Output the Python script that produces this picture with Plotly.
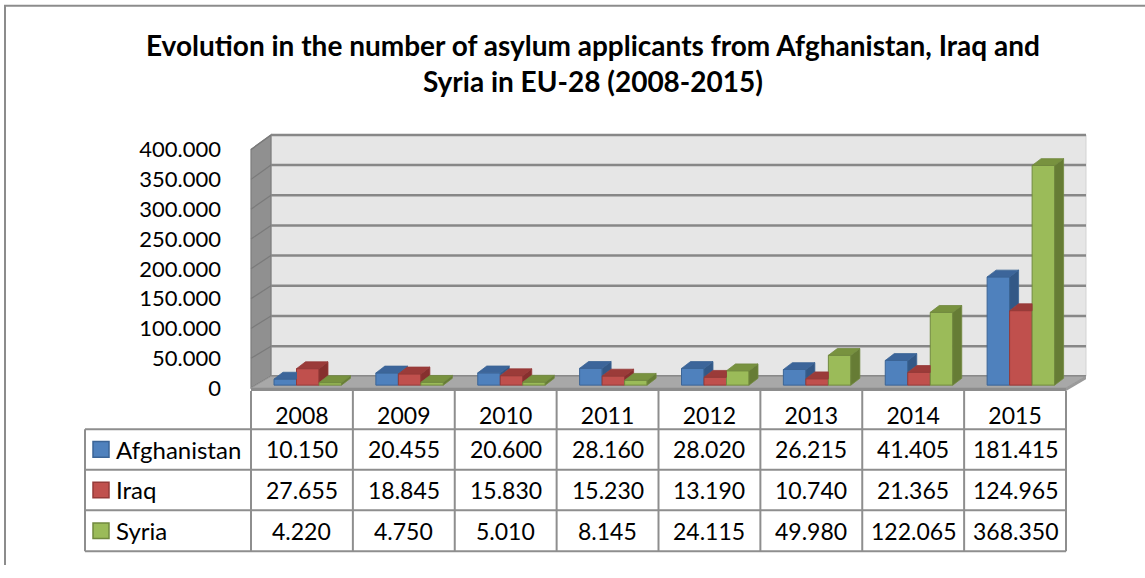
import plotly.graph_objects as go

# ---- data -------------------------------------------------------------
years = ["2008", "2009", "2010", "2011", "2012", "2013", "2014", "2015"]
afghanistan = [10150, 20455, 20600, 28160, 28020, 26215, 41405, 181415]
iraq = [27655, 18845, 15830, 15230, 13190, 10740, 21365, 124965]
syria = [4220, 4750, 5010, 8145, 24115, 49980, 122065, 368350]
series_names = ["Afghanistan", "Iraq", "Syria"]
series_values = [afghanistan, iraq, syria]
y_tick_values = [0, 50000, 100000, 150000, 200000, 250000, 300000, 350000, 400000]

title_text = ("Evolution in the number of asylum applicants from Afghanistan, Iraq and"
              "<br>Syria in EU-28 (2008-2015)")

# ---- styling ------------------------------------------------------------
FONT = "Lato, 'Noto Sans', sans-serif"
styles = [
    dict(front="#4f81bd", edge="#3b6496", top="#3c659a", side="#335886"),   # blue
    dict(front="#c0504d", edge="#953a38", top="#9b3b39", side="#86302e"),   # red
    dict(front="#9bbb59", edge="#71893f", top="#78923f", side="#667c35"),   # green
]
GRID = "#878787"
TABLE_LINE = "#8e8e8e"

# ---- geometry (pixels) --------------------------------------------------
W, H = 1145, 578
FL, FR = 251, 1066            # front edge of the floor / data table columns
BACK_DX = 20                   # horizontal shift of the back wall
FLOOR_FRONT, FLOOR_BACK, WALL_TOP = 397, 385, 138
PX_FRONT = 30.5 / 50000        # px per unit at the front plane
PX_BACK = (FLOOR_BACK - WALL_TOP) / 400000
CAT = (FR - FL) / len(years)

def px(x):
    return x / W

def py(y):
    return 1 - y / H

def pt(x, y):
    return f"{px(x):.5f},{py(y):.5f}"

def poly(points):
    return "M " + " L ".join(pt(x, y) for x, y in points) + " Z"

# bar geometry in data units
BAR_W = 22.5 / CAT
BAR_X0 = 23 / CAT - 0.5
BASE = 3 / PX_FRONT
DDX = 9 / CAT
DDY = 7 / PX_FRONT

fig = go.Figure()

# ---- bars: front faces as bars, top/side faces as filled polygons --------
for k, (name, vals) in enumerate(zip(series_names, series_values)):
    st = styles[k]
    nxt = series_values[k + 1] if k + 1 < len(series_values) else None
    off = BAR_X0 + k * BAR_W
    fig.add_trace(go.Bar(
        x=list(range(len(years))), y=vals, base=BASE, width=BAR_W, offset=off,
        marker=dict(color=st["front"], line=dict(color=st["edge"], width=1)),
        name=name, showlegend=False, hoverinfo="skip",
    ))
    side_x, side_y, top_x, top_y = [], [], [], []
    for i, v in enumerate(vals):
        xl = i + off
        xr = xl + BAR_W
        T = BASE + v
        low = BASE + (nxt[i] if nxt else 0)
        # right side face, only the part above the neighbouring bar
        if not nxt or nxt[i] < v:
            side_x += [xr, xr + DDX, xr + DDX, xr, xr, None]
            side_y += [low, low + DDY, T + DDY, T, low, None]
        # top face, trimmed where the taller neighbour covers it
        y0 = min(max(low, T), T + DDY) if nxt else T
        s = (T + DDY - y0) / DDY
        top_x += [xl, xl + DDX, xr + DDX * s, xr, xr, xl, None]
        top_y += [T, T + DDY, T + DDY, y0, T, T, None]
    fig.add_trace(go.Scatter(x=side_x, y=side_y, mode="lines", fill="toself",
                             fillcolor=st["side"], line=dict(color=st["edge"], width=0.8),
                             showlegend=False, hoverinfo="skip"))
    fig.add_trace(go.Scatter(x=top_x, y=top_y, mode="lines", fill="toself",
                             fillcolor=st["top"], line=dict(color=st["edge"], width=0.8),
                             showlegend=False, hoverinfo="skip"))

shapes = []

# ---- walls and floor ------------------------------------------------------
wall_front_top = FLOOR_FRONT - 400000 * PX_FRONT
shapes.append(dict(type="path", xref="paper", yref="paper", layer="below",
                   path=poly([(FL + BACK_DX, WALL_TOP), (FR + BACK_DX, WALL_TOP),
                              (FR + BACK_DX, FLOOR_BACK), (FL + BACK_DX, FLOOR_BACK)]),
                   fillcolor="#e6e6e6", line=dict(color="#d2d2d2", width=1)))
shapes.append(dict(type="path", xref="paper", yref="paper", layer="below",
                   path=poly([(FL, wall_front_top), (FL + BACK_DX, WALL_TOP),
                              (FL + BACK_DX, FLOOR_BACK), (FL, FLOOR_FRONT)]),
                   fillcolor="#909090", line=dict(color="#7c7c7c", width=1.2)))
for v in y_tick_values:
    yf = FLOOR_FRONT - v * PX_FRONT
    yb = FLOOR_BACK - v * PX_BACK
    shapes.append(dict(type="line", xref="paper", yref="paper", layer="below",
                       x0=px(FL), y0=py(yf), x1=px(FL + BACK_DX), y1=py(yb),
                       line=dict(color="#7a7a7a", width=1.2)))
    shapes.append(dict(type="line", xref="paper", yref="paper", layer="below",
                       x0=px(FL + BACK_DX), y0=py(yb), x1=px(FR + BACK_DX), y1=py(yb),
                       line=dict(color=GRID, width=2.5)))
shapes.append(dict(type="path", xref="paper", yref="paper", layer="below",
                   path=poly([(FL, FLOOR_FRONT), (FL + BACK_DX, FLOOR_BACK),
                              (FR + BACK_DX, FLOOR_BACK), (FR, FLOOR_FRONT)]),
                   fillcolor="#a8a8a8", line=dict(color="#959595", width=1)))
shapes.append(dict(type="path", xref="paper", yref="paper", layer="below",
                   path=poly([(FL, FLOOR_FRONT), (FR, FLOOR_FRONT),
                              (FR, FLOOR_FRONT + 3), (FL, FLOOR_FRONT + 3)]),
                   fillcolor="#8c8c8c", line=dict(width=0)))
shapes.append(dict(type="path", xref="paper", yref="paper", layer="below",
                   path=poly([(FR, FLOOR_FRONT), (FR + BACK_DX, FLOOR_BACK),
                              (FR + BACK_DX, FLOOR_BACK + 3), (FR, FLOOR_FRONT + 3)]),
                   fillcolor="#9a9a9a", line=dict(width=0)))

# ---- data table -----------------------------------------------------------
TBL_L = 85
ROW_LINES = [439, 480.5, 522, 564]
YEAR_TOP = 400
for c in range(len(years) + 1):
    x = FL + c * CAT
    shapes.append(dict(type="line", xref="paper", yref="paper",
                       x0=px(x), x1=px(x), y0=py(YEAR_TOP), y1=py(ROW_LINES[-1]),
                       line=dict(color=TABLE_LINE, width=2)))
shapes.append(dict(type="line", xref="paper", yref="paper",
                   x0=px(TBL_L), x1=px(TBL_L), y0=py(ROW_LINES[0]), y1=py(ROW_LINES[-1]),
                   line=dict(color=TABLE_LINE, width=2)))
for yl in ROW_LINES:
    shapes.append(dict(type="line", xref="paper", yref="paper",
                       x0=px(TBL_L), x1=px(FR), y0=py(yl), y1=py(yl),
                       line=dict(color=TABLE_LINE, width=2)))

annotations = []
for r, (name, vals) in enumerate(zip(series_names, series_values)):
    yc = (ROW_LINES[r] + ROW_LINES[r + 1]) / 2
    st = styles[r]
    shapes.append(dict(type="rect", xref="paper", yref="paper",
                       x0=px(93), x1=px(109), y0=py(yc - 8), y1=py(yc + 8),
                       fillcolor=st["front"], line=dict(color=st["edge"], width=1.5)))
    annotations.append(dict(text=name, x=px(114), y=py(yc), xref="paper", yref="paper",
                            xanchor="left", yanchor="middle", showarrow=False,
                            font=dict(family=FONT, size=24, color="black")))
    for i, v in enumerate(vals):
        annotations.append(dict(text=f"{v:,}".replace(",", "."), x=i, y=py(yc),
                                xref="x", yref="paper", xanchor="center", yanchor="middle",
                                showarrow=False,
                                font=dict(family=FONT, size=23, color="black")))

annotations.append(dict(text=f"<b>{title_text}</b>", x=px(593), y=py(64),
                        xref="paper", yref="paper", xanchor="center", yanchor="middle",
                        showarrow=False, align="center",
                        font=dict(family=FONT, size=28, color="black")))

# ---- chart frame -----------------------------------------------------------
shapes.append(dict(type="line", xref="paper", yref="paper", x0=px(5), x1=px(5),
                   y0=py(6), y1=0, line=dict(color="#8c8c8c", width=2)))
shapes.append(dict(type="line", xref="paper", yref="paper", x0=px(4), x1=1,
                   y0=py(6), y1=py(6), line=dict(color="#8c8c8c", width=2)))

fig.update_layout(
    width=W, height=H, autosize=False,
    margin=dict(l=0, r=0, t=0, b=0),
    paper_bgcolor="white", plot_bgcolor="rgba(0,0,0,0)",
    barmode="overlay", separators=",.", showlegend=False, hovermode=False,
    font=dict(family=FONT, color="black"),
    shapes=shapes, annotations=annotations,
    xaxis=dict(domain=[px(FL), px(FR + BACK_DX)],
               range=[-0.5, -0.5 + (FR + BACK_DX - FL) / CAT],
               tickvals=list(range(len(years))), ticktext=years,
               tickfont=dict(family=FONT, size=23, color="black"),
               showgrid=False, zeroline=False, showline=False, ticks="",
               ticklabelstandoff=12, fixedrange=True),
    yaxis=dict(domain=[py(FLOOR_FRONT), py(WALL_TOP)],
               range=[0, (FLOOR_FRONT - WALL_TOP) / PX_FRONT],
               tickvals=y_tick_values, tickformat=",",
               tickfont=dict(family=FONT, size=22, color="black"),
               showgrid=False, zeroline=False, showline=False, ticks="",
               ticklabelstandoff=29, fixedrange=True),
)

fig.write_html("out.html")
